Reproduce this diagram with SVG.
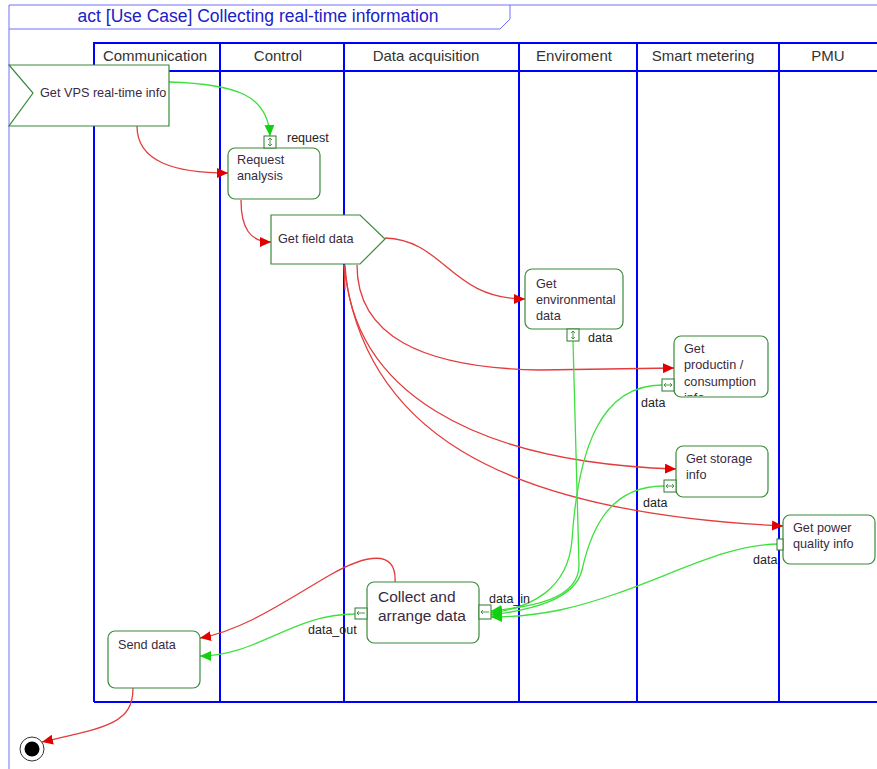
<svg xmlns="http://www.w3.org/2000/svg" width="877" height="769" viewBox="0 0 877 769">
  <style>
    .lane { fill: none; stroke: #0000ff; stroke-width: 2; }
    .frame { fill: none; stroke: #7070ff; stroke-width: 1; }
    .hdr { font-family: "Liberation Sans", Arial, sans-serif; font-size: 15px; fill: #333; text-anchor: middle; }
    .title { font-family: "Liberation Sans", Arial, sans-serif; font-size: 17.5px; fill: #2020c8; text-anchor: middle; }
    .node { fill: #fff; stroke: #3a8a3a; stroke-width: 1.2; }
    .txt { font-family: "Liberation Sans", Arial, sans-serif; font-size: 12.7px; fill: #3a2a40; }
    .big { font-size: 15.5px; }
    .pin { fill: #fff; stroke: #2a7a2a; stroke-width: 1; }
    .pinmark { fill: none; stroke: #2a7a2a; stroke-width: 0.8; }
    .lbl { font-family: "Liberation Sans", Arial, sans-serif; font-size: 12.5px; fill: #222; }
    .ctl { fill: none; stroke: #e43c3c; stroke-width: 1.3; }
    .obj { fill: none; stroke: #3ee03e; stroke-width: 1.3; }
  </style>
  <defs>
    <marker id="ar" markerUnits="userSpaceOnUse" markerWidth="12" markerHeight="10" refX="11" refY="5" orient="auto">
      <path d="M0,0 L11,5 L0,10 Z" fill="#e00000"/>
    </marker>
    <marker id="ag" markerUnits="userSpaceOnUse" markerWidth="12" markerHeight="10" refX="11" refY="5" orient="auto">
      <path d="M0,0 L11,5 L0,10 Z" fill="#10d010"/>
    </marker>
  </defs>

  <rect width="877" height="769" fill="#fff"/>

  <!-- diagram frame with title tab -->
  <g id="frame">
    <path class="frame" d="M9,769 L9,5 L877,5"/>
    <path class="frame" d="M9,29 L500,29 L510,19 L510,5"/>
    <text class="title" x="258" y="22">act [Use Case] Collecting real-time information</text>
  </g>

  <!-- swimlanes -->
  <g id="lanes">
    <path class="lane" d="M94,702 L94,43 L878,43"/>
    <path class="lane" d="M94,71 L878,71"/>
    <path class="lane" d="M94,702 L878,702"/>
    <path class="lane" d="M220,43 L220,702 M344,43 L344,702 M519,43 L519,702 M637,43 L637,702 M779,43 L779,702"/>
    <text class="hdr" x="155" y="61">Communication</text>
    <text class="hdr" x="278" y="61">Control</text>
    <text class="hdr" x="426" y="61">Data acquisition</text>
    <text class="hdr" x="574" y="61">Enviroment</text>
    <text class="hdr" x="703" y="61">Smart metering</text>
    <text class="hdr" x="828" y="61">PMU</text>
  </g>

  <!-- connectors -->
  <g id="connectors">
    <!-- control flows -->
    <path class="ctl" marker-end="url(#ar)" d="M137,126 C137,162 175,173 228,173"/>
    <path class="ctl" marker-end="url(#ar)" d="M241,200 C241,228 250,242 271,242"/>
    <path class="ctl" marker-end="url(#ar)" d="M385,238 C445,240 450,299 525,299"/>
    <path class="ctl" marker-end="url(#ar)" d="M357,265 C357,335 420,368 540,370 L674,368"/>
    <path class="ctl" marker-end="url(#ar)" d="M345,265 C352,390 470,462 676,469"/>
    <path class="ctl" marker-end="url(#ar)" d="M344,265 C362,425 490,512 783,526"/>
    <path class="ctl" stroke-width="2.5" d="M344,265 L345,290"/>
    <path class="ctl" marker-end="url(#ar)" d="M395,582 C397,548 365,555 330,575 C290,598 245,630 200,638"/>
    <path class="ctl" marker-end="url(#ar)" d="M133,688 C133,722 110,727 42,742"/>
    <!-- object flows -->
    <path class="obj" marker-end="url(#ag)" d="M169,82 C238,84 268,96 270,136"/>
    <path class="obj" marker-end="url(#ag)" d="M355,614 C292,614 258,656 200,656"/>
    <path class="obj" marker-end="url(#ag)" d="M573,341 L579,565 C579,600 530,607 491,611"/>
    <path class="obj" marker-end="url(#ag)" d="M662,385 C600,385 578,450 572,540 C568,590 530,608 491,613"/>
    <path class="obj" marker-end="url(#ag)" d="M664,486 C612,486 592,525 582,570 C575,600 530,610 491,615"/>
    <path class="obj" marker-end="url(#ag)" d="M779,544 C715,544 650,590 560,610 C535,615 515,617 491,617"/>
  </g>

  <!-- nodes -->
  <g id="get-vps">
    <polygon class="node" points="9,65 169,65 169,126 9,126 33,93"/>
    <text class="txt" x="40" y="97">Get VPS real-time info</text>
  </g>

  <g id="request-analysis">
    <rect class="node" x="228" y="148" width="92" height="51" rx="7"/>
    <text class="txt" x="237" y="164">Request</text>
    <text class="txt" x="237" y="180">analysis</text>
    <rect class="pin" x="264" y="136" width="12" height="12"/>
    <path class="pinmark" d="M270,138 L270,146 M268,140 L270,138 L272,140 M268,144 L270,146 L272,144"/>
    <text class="lbl" x="287" y="142">request</text>
  </g>

  <g id="get-field-data">
    <polygon class="node" points="271,215 360,215 385,239 360,264 271,264"/>
    <text class="txt" x="278" y="243">Get field data</text>
  </g>

  <g id="get-environmental-data">
    <rect class="node" x="525" y="269" width="98" height="60" rx="7"/>
    <text class="txt" x="536" y="288">Get</text>
    <text class="txt" x="536" y="304">environmental</text>
    <text class="txt" x="536" y="320">data</text>
    <rect class="pin" x="567" y="329" width="12" height="12"/>
    <path class="pinmark" d="M573,331 L573,339 M571,333 L573,331 L575,333 M571,337 L573,339 L575,337"/>
    <text class="lbl" x="588" y="342">data</text>
  </g>

  <g id="get-production-info">
    <clipPath id="clip-prod"><rect x="674" y="336" width="94" height="60"/></clipPath>
    <rect class="node" x="674" y="336" width="94" height="61" rx="7"/>
    <g clip-path="url(#clip-prod)">
      <text class="txt" x="684" y="353">Get</text>
      <text class="txt" x="684" y="369">productin /</text>
      <text class="txt" x="684" y="386">consumption</text>
      <text class="txt" x="684" y="402">info</text>
    </g>
    <rect class="pin" x="662" y="379" width="12" height="12"/>
    <path class="pinmark" d="M664,385 L672,385 M666,383 L664,385 L666,387 M670,383 L672,385 L670,387"/>
    <text class="lbl" x="641" y="407">data</text>
  </g>

  <g id="get-storage-info">
    <rect class="node" x="676" y="446" width="92" height="51" rx="7"/>
    <text class="txt" x="686" y="463">Get storage</text>
    <text class="txt" x="686" y="479">info</text>
    <rect class="pin" x="664" y="480" width="12" height="12"/>
    <path class="pinmark" d="M666,486 L674,486 M668,484 L666,486 L668,488 M672,484 L674,486 L672,488"/>
    <text class="lbl" x="643" y="507">data</text>
  </g>

  <g id="get-power-quality-info">
    <rect class="node" x="783" y="515" width="92" height="49" rx="7"/>
    <text class="txt" x="793" y="532">Get power</text>
    <text class="txt" x="793" y="548">quality info</text>
    <rect class="pin" x="777" y="539" width="6" height="11"/>
    <text class="lbl" x="753" y="564">data</text>
  </g>

  <g id="collect-and-arrange-data">
    <rect class="node" x="367" y="582" width="112" height="61" rx="7"/>
    <text class="txt big" x="378" y="602">Collect and</text>
    <text class="txt big" x="378" y="621">arrange data</text>
    <rect class="pin" x="355" y="608" width="12" height="11"/>
    <path class="pinmark" d="M357,613 L365,613 M359,611 L357,613 L359,615"/>
    <text class="lbl" x="308" y="634">data_out</text>
    <rect class="pin" x="479" y="605" width="12" height="14"/>
    <path class="pinmark" d="M481,612 L489,612 M483,610 L481,612 L483,614"/>
    <text class="lbl" x="489" y="603">data_in</text>
  </g>

  <g id="send-data">
    <rect class="node" x="108" y="631" width="92" height="57" rx="7"/>
    <text class="txt" x="118" y="649">Send data</text>
  </g>

  <g id="final-node">
    <circle cx="32" cy="749" r="12" fill="#fff" stroke="#333" stroke-width="1"/>
    <circle cx="32" cy="749" r="7.5" fill="#000"/>
  </g>
</svg>
